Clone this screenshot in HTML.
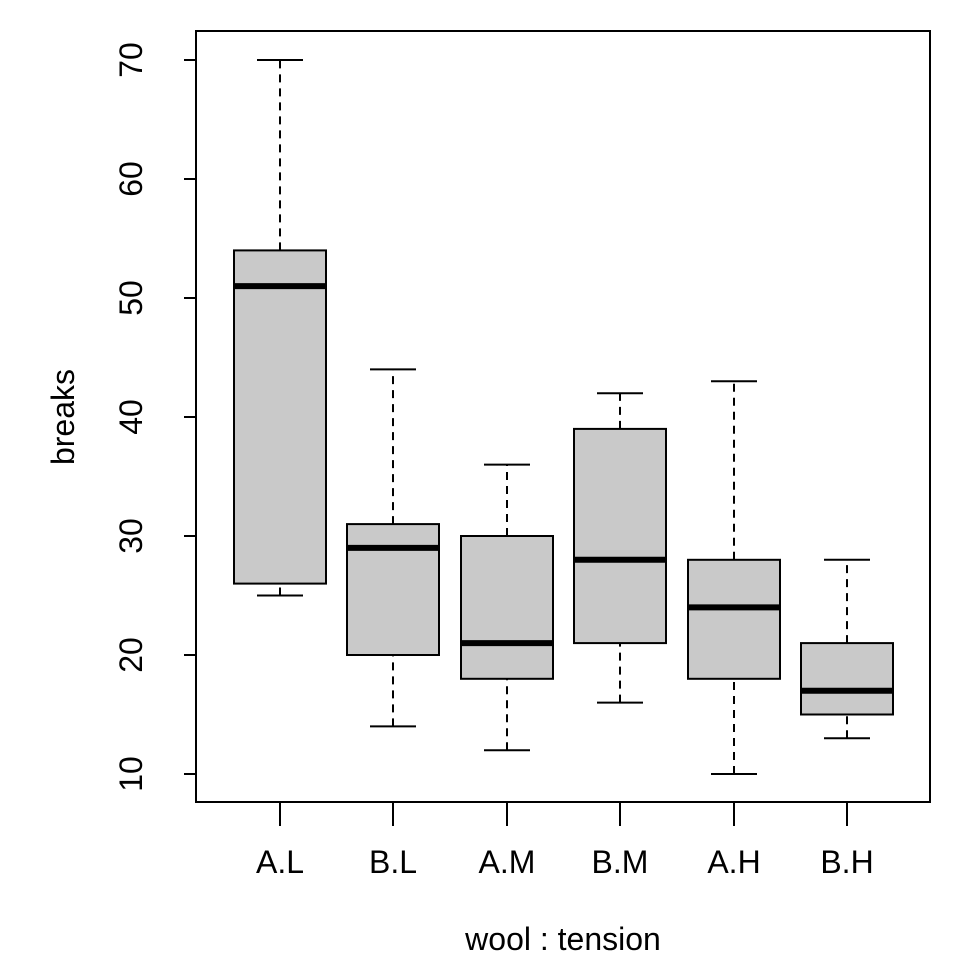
<!DOCTYPE html>
<html><head><style>body{margin:0;background:#fff}svg{display:block}</style></head><body>
<svg width="960" height="960" xmlns="http://www.w3.org/2000/svg" font-family="Liberation Sans, Arial, sans-serif" font-size="32">
<rect width="960" height="960" fill="#fff"/>
<rect x="196" y="31" width="734" height="771" fill="none" stroke="#000" stroke-width="2"/>
<g stroke="#000" stroke-width="2">
<line x1="196" y1="774" x2="196" y2="60"/>
<line x1="196" y1="774" x2="184" y2="774"/>
<line x1="196" y1="655" x2="184" y2="655"/>
<line x1="196" y1="536" x2="184" y2="536"/>
<line x1="196" y1="417" x2="184" y2="417"/>
<line x1="196" y1="298" x2="184" y2="298"/>
<line x1="196" y1="179" x2="184" y2="179"/>
<line x1="196" y1="60" x2="184" y2="60"/>
<line x1="280" y1="802" x2="280" y2="826"/>
<line x1="393" y1="802" x2="393" y2="826"/>
<line x1="507" y1="802" x2="507" y2="826"/>
<line x1="620" y1="802" x2="620" y2="826"/>
<line x1="734" y1="802" x2="734" y2="826"/>
<line x1="847" y1="802" x2="847" y2="826"/>
</g>
<g text-anchor="middle">
<text transform="translate(142,774) rotate(-90)">10</text>
<text transform="translate(142,655) rotate(-90)">20</text>
<text transform="translate(142,536) rotate(-90)">30</text>
<text transform="translate(142,417) rotate(-90)">40</text>
<text transform="translate(142,298) rotate(-90)">50</text>
<text transform="translate(142,179) rotate(-90)">60</text>
<text transform="translate(142,60) rotate(-90)">70</text>
<text transform="translate(74,417) rotate(-90)">breaks</text>
<text x="280" y="873">A.L</text>
<text x="393" y="873">B.L</text>
<text x="507" y="873">A.M</text>
<text x="620" y="873">B.M</text>
<text x="734" y="873">A.H</text>
<text x="847" y="873">B.H</text>
<text x="563" y="950">wool : tension</text>
</g>
<g stroke="#000" stroke-width="2">
<g stroke-dasharray="8,6">
<line x1="280" y1="595.5" x2="280" y2="583.6"/><line x1="280" y1="250.4" x2="280" y2="60"/>
<line x1="393" y1="726.4" x2="393" y2="655"/><line x1="393" y1="524.1" x2="393" y2="369.4"/>
<line x1="507" y1="750.2" x2="507" y2="678.8"/><line x1="507" y1="536" x2="507" y2="464.6"/>
<line x1="620" y1="702.6" x2="620" y2="643.1"/><line x1="620" y1="428.9" x2="620" y2="393.2"/>
<line x1="734" y1="774" x2="734" y2="678.8"/><line x1="734" y1="559.8" x2="734" y2="381.3"/>
<line x1="847" y1="738.3" x2="847" y2="714.5"/><line x1="847" y1="643.1" x2="847" y2="559.8"/>
</g>
<line x1="257" y1="595.5" x2="303" y2="595.5"/><line x1="257" y1="60" x2="303" y2="60"/>
<line x1="370" y1="726.4" x2="416" y2="726.4"/><line x1="370" y1="369.4" x2="416" y2="369.4"/>
<line x1="484" y1="750.2" x2="530" y2="750.2"/><line x1="484" y1="464.6" x2="530" y2="464.6"/>
<line x1="597" y1="702.6" x2="643" y2="702.6"/><line x1="597" y1="393.2" x2="643" y2="393.2"/>
<line x1="711" y1="774" x2="757" y2="774"/><line x1="711" y1="381.3" x2="757" y2="381.3"/>
<line x1="824" y1="738.3" x2="870" y2="738.3"/><line x1="824" y1="559.8" x2="870" y2="559.8"/>
<g fill="#c9c9c9">
<rect x="234" y="250.4" width="92" height="333.2"/>
<rect x="347" y="524.1" width="92" height="130.9"/>
<rect x="461" y="536" width="92" height="142.8"/>
<rect x="574" y="428.9" width="92" height="214.2"/>
<rect x="688" y="559.8" width="92" height="119"/>
<rect x="801" y="643.1" width="92" height="71.4"/>
</g>
<g stroke-width="6">
<line x1="234" y1="286.1" x2="326" y2="286.1"/>
<line x1="347" y1="547.9" x2="439" y2="547.9"/>
<line x1="461" y1="643.1" x2="553" y2="643.1"/>
<line x1="574" y1="559.8" x2="666" y2="559.8"/>
<line x1="688" y1="607.4" x2="780" y2="607.4"/>
<line x1="801" y1="690.7" x2="893" y2="690.7"/>
</g>
</g>
</svg>
</body></html>
